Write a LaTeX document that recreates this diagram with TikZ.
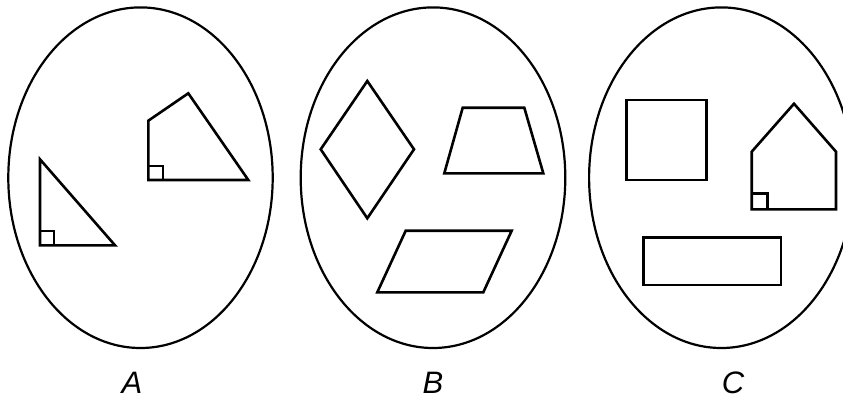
\documentclass[tikz,border=0pt]{standalone}
\usepackage{fontspec}
\setmainfont{Liberation Sans}
\begin{document}
\begin{tikzpicture}[x=1pt,y=-1pt,
  oval/.style={draw=black,line width=2.2pt},
  shp/.style={draw=black,line width=2.6pt,line join=miter},
  ra/.style={draw=black,line width=2.2pt},
  lbl/.style={font=\fontsize{31}{31}\selectfont\itshape,anchor=base,inner sep=0pt}]
\useasboundingbox (0,0) rectangle (843,400);
\clip (0,0) rectangle (843,400);
% ellipses
\draw[oval] (140.5,177.7) ellipse [x radius=132.2, y radius=170.3];
\draw[oval] (433,177.7) ellipse [x radius=132.3, y radius=170.3];
\draw[oval] (721.3,177.7) ellipse [x radius=132.2, y radius=170.3];
% A: right triangle
\draw[shp] (40,159.3) -- (40,245.3) -- (115,245.3) -- cycle;
\draw[ra] (40,231) -- (54,231) -- (54,245.3);
% A: quadrilateral
\draw[shp] (148.3,120.7) -- (188.3,93.3) -- (248.3,180) -- (148.3,180) -- cycle;
\draw[ra] (148.3,166) -- (163,166) -- (163,180);
% B: rhombus
\draw[shp] (367.3,81) -- (414,149.3) -- (367.3,218.3) -- (320.7,149.3) -- cycle;
% B: trapezoid
\draw[shp] (462.7,107.7) -- (524.3,107.7) -- (543.3,173.3) -- (444.3,173.3) -- cycle;
% B: parallelogram
\draw[shp] (405.7,230.7) -- (511.7,230.7) -- (483.3,292.3) -- (377.3,292.3) -- cycle;
% C: square
\draw[shp] (626.7,100) rectangle (706.7,180);
% C: house
\draw[shp] (751.7,209.3) -- (751.7,151.7) -- (794,103.7) -- (836,151.7) -- (836,209.3) -- cycle;
\draw[ra] (751.7,193.5) -- (767.5,193.5) -- (767.5,209.3);
% C: rectangle
\draw[shp] (643.3,237.3) rectangle (781,285);
% labels
\node[lbl] (la) at (132,393.5) {A};
\node[lbl] (lb) at (433,393.5) {B};
\node[lbl] (lc) at (733,393.5) {C};
\end{tikzpicture}
\end{document}
